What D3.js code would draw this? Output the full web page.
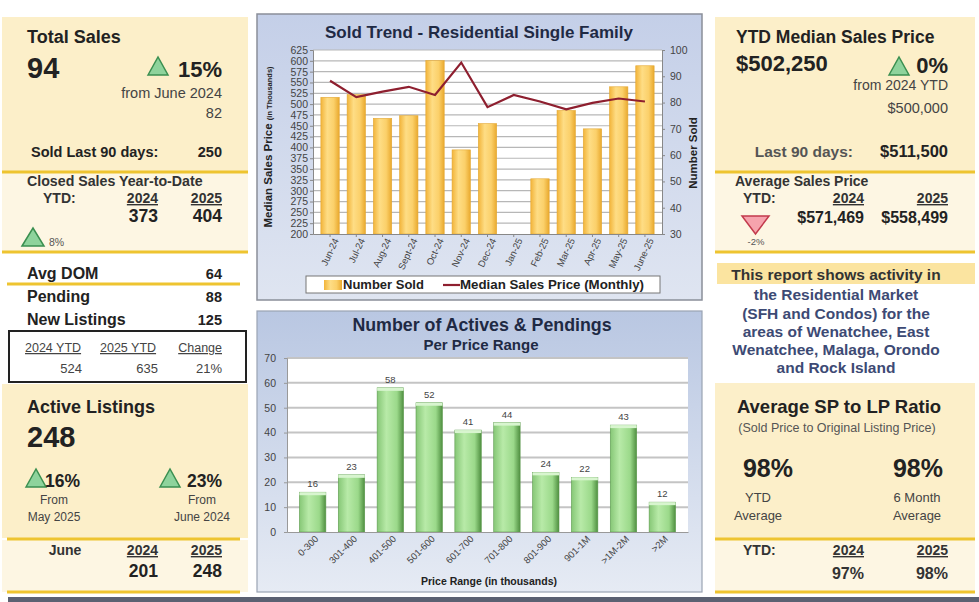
<!DOCTYPE html>
<html>
<head>
<meta charset="utf-8">
<script src="https://cdn.jsdelivr.net/npm/d3@7"></script>
<style>
  body { margin: 0; background: #fff; }
  svg { display: block; font-family: "Liberation Sans", Arial, sans-serif; }
</style>
</head>
<body>
<div id="board"></div>
<script>
// ---- data ----
const MONTHS = ["Jun-24", "Jul-24", "Aug-24", "Sept-24", "Oct-24", "Nov-24", "Dec-24",
  "Jan-25", "Feb-25", "Mar-25", "Apr-25", "May-25", "June-25"];
const NUMBER_SOLD = [82, 83, 74, 75, 96, 62, 72, null, 51, 77, 70, 86, 94];
const MEDIAN_PRICE = [554, 516, 529, 540, 521, 596, 493, 521, 506, 488, 503, 513, 506];
const PRICE_TICKS = [200, 225, 250, 275, 300, 325, 350, 375, 400, 425, 450, 475, 500,
  525, 550, 575, 600, 625];
const SOLD_TICKS = [30, 40, 50, 60, 70, 80, 90, 100];

const RANGES = ["0-300", "301-400", "401-500", "501-600", "601-700", "701-800",
  "801-900", "901-1M", ">1M-2M", ">2M"];
const RANGE_COUNTS = [16, 23, 58, 52, 41, 44, 24, 22, 43, 12];
const COUNT_TICKS = [0, 10, 20, 30, 40, 50, 60, 70];

const WIDTH = 979;
const HEIGHT = 602;

const GOLD = "#eec430";
const PANEL = "#fcefc9";
const PANEL_LIGHT = "#fdf6e3";

const svg = d3.select("#board").append("svg")
  .attr("width", WIDTH).attr("height", HEIGHT);

const defs = svg.append("defs");

function hGrad(id, stops) {
  const g = defs.append("linearGradient").attr("id", id)
    .attr("x1", "0%").attr("x2", "100%").attr("y1", "0%").attr("y2", "0%");
  stops.forEach(s => g.append("stop").attr("offset", s[0]).attr("stop-color", s[1]));
}
function vGrad(id, stops) {
  const g = defs.append("linearGradient").attr("id", id)
    .attr("x1", "0%").attr("x2", "0%").attr("y1", "0%").attr("y2", "100%");
  stops.forEach(s => g.append("stop").attr("offset", s[0]).attr("stop-color", s[1]));
}
hGrad("barGold", [["0%", "#f2b43a"], ["35%", "#fedd85"], ["70%", "#fbd06a"], ["100%", "#e9a92e"]]);
hGrad("barGreen", [["0%", "#86c776"], ["35%", "#b8eaa8"], ["75%", "#9bd98a"], ["100%", "#4f8f40"]]);
vGrad("frameTop", [["0%", "#c4cfe8"], ["100%", "#dfe5f1"]]);
vGrad("frameBot", [["0%", "#b9c7e2"], ["100%", "#e6ebf4"]]);

// ---- helpers ----
function txt(x, y, s, opt) {
  opt = opt || {};
  return svg.append("text")
    .attr("x", x).attr("y", y)
    .attr("font-size", opt.size || 13)
    .attr("font-weight", opt.bold === false ? "normal" : "bold")
    .attr("text-anchor", opt.anchor || "start")
    .attr("fill", opt.color || "#222")
    .attr("text-decoration", opt.under ? "underline" : null)
    .text(s);
}
function upTri(x, y, w, h) {
  svg.append("path")
    .attr("d", `M${x},${y + h}L${x + w / 2},${y}L${x + w},${y + h}Z`)
    .attr("fill", "#8ed39c").attr("stroke", "#3a8f50").attr("stroke-width", 1.5);
}
function downTri(x, y, w, h) {
  svg.append("path")
    .attr("d", `M${x},${y}L${x + w},${y}L${x + w / 2},${y + h}Z`)
    .attr("fill", "#f6a3ad").attr("stroke", "#c23a4c").attr("stroke-width", 1.5);
}
function goldLine(x1, x2, y) {
  svg.append("line").attr("x1", x1).attr("x2", x2).attr("y1", y).attr("y2", y)
    .attr("stroke", GOLD).attr("stroke-width", 3);
}
function box(x, y, w, h, fill) {
  svg.append("rect").attr("x", x).attr("y", y).attr("width", w).attr("height", h).attr("fill", fill);
}

// ---- left panel ----
box(2, 17, 246, 155, PANEL);
box(2, 173, 246, 79, PANEL_LIGHT);
goldLine(2, 248, 172);
goldLine(2, 248, 252);

txt(27, 43, "Total Sales", { size: 18 });
txt(27, 78, "94", { size: 29 });
upTri(148, 57, 20, 18);
txt(222, 77, "15%", { size: 22, anchor: "end" });
txt(222, 98, "from June 2024", { size: 14.5, bold: false, anchor: "end", color: "#444" });
txt(222, 118, "82", { size: 14.5, bold: false, anchor: "end", color: "#444" });
txt(31, 157, "Sold Last 90 days:", { size: 14.5 });
txt(222, 157, "250", { size: 14.5, anchor: "end" });

txt(27, 186, "Closed Sales Year-to-Date", { size: 14.2, color: "#333" });
txt(43, 203, "YTD:", { size: 14, color: "#333" });
txt(158, 203, "2024", { size: 14, anchor: "end", under: true, color: "#333" });
txt(222, 203, "2025", { size: 14, anchor: "end", under: true, color: "#333" });
txt(158, 222, "373", { size: 17.5, anchor: "end" });
txt(222, 222, "404", { size: 17.5, anchor: "end" });
upTri(22, 228, 22, 18);
txt(49, 246, "8%", { size: 10.5, bold: false, color: "#555" });

txt(27, 279, "Avg DOM", { size: 16 });
txt(222, 279, "64", { size: 14.5, anchor: "end" });
goldLine(7, 240, 284);
txt(27, 302, "Pending", { size: 16 });
txt(222, 302, "88", { size: 14.5, anchor: "end" });
txt(27, 325, "New Listings", { size: 16 });
txt(222, 325, "125", { size: 14.5, anchor: "end" });

svg.append("rect").attr("x", 9).attr("y", 331).attr("width", 237).attr("height", 51)
  .attr("fill", "none").attr("stroke", "#222").attr("stroke-width", 2);
txt(25, 352, "2024 YTD", { size: 12.5, bold: false, under: true, color: "#444" });
txt(100, 352, "2025 YTD", { size: 12.5, bold: false, under: true, color: "#444" });
txt(222, 352, "Change", { size: 12.5, bold: false, under: true, anchor: "end", color: "#444" });
txt(82, 373, "524", { size: 13, bold: false, anchor: "end", color: "#444" });
txt(158, 373, "635", { size: 13, bold: false, anchor: "end", color: "#444" });
txt(222, 373, "21%", { size: 13, bold: false, anchor: "end", color: "#444" });

box(2, 384, 246, 154, PANEL);
box(2, 540, 246, 52, PANEL_LIGHT);
goldLine(7, 240, 539);
goldLine(7, 240, 592);
txt(27, 413, "Active Listings", { size: 18 });
txt(27, 447, "248", { size: 29 });
upTri(26, 469, 20, 18);
txt(45, 487, "16%", { size: 17.5 });
txt(54, 504, "From", { size: 12, bold: false, anchor: "middle", color: "#444" });
txt(54, 521, "May 2025", { size: 12, bold: false, anchor: "middle", color: "#444" });
upTri(160, 469, 20, 18);
txt(222, 487, "23%", { size: 17.5, anchor: "end" });
txt(202, 504, "From", { size: 12, bold: false, anchor: "middle", color: "#444" });
txt(202, 521, "June 2024", { size: 12, bold: false, anchor: "middle", color: "#444" });
txt(65, 555, "June", { size: 14, anchor: "middle", color: "#333" });
txt(158, 555, "2024", { size: 14, anchor: "end", under: true, color: "#333" });
txt(222, 555, "2025", { size: 14, anchor: "end", under: true, color: "#333" });
txt(158, 577, "201", { size: 17.5, anchor: "end" });
txt(222, 577, "248", { size: 17.5, anchor: "end" });

// ---- right panel ----
box(715, 17, 260, 155, PANEL);
box(715, 173, 260, 79, PANEL_LIGHT);
goldLine(715, 975, 172);
goldLine(715, 975, 252);

txt(736, 43, "YTD Median Sales Price", { size: 17.5 });
txt(736, 71, "$502,250", { size: 22 });
upTri(889, 57, 20, 18);
txt(948, 73, "0%", { size: 22, anchor: "end" });
txt(948, 90, "from 2024 YTD", { size: 14, bold: false, anchor: "end", color: "#444" });
txt(948, 113, "$500,000", { size: 14.5, bold: false, anchor: "end", color: "#444" });
txt(853, 157, "Last 90 days:", { size: 15.5, anchor: "end", color: "#555" });
txt(948, 157, "$511,500", { size: 16.5, anchor: "end" });

txt(735, 186, "Average Sales Price", { size: 14, color: "#333" });
txt(743, 203, "YTD:", { size: 14, color: "#333" });
txt(864, 203, "2024", { size: 14, anchor: "end", under: true, color: "#333" });
txt(948, 203, "2025", { size: 14, anchor: "end", under: true, color: "#333" });
downTri(742, 216, 27, 18);
txt(756, 245, "-2%", { size: 9.5, bold: false, anchor: "middle", color: "#555" });
txt(864, 223, "$571,469", { size: 16, anchor: "end" });
txt(948, 223, "$558,499", { size: 16, anchor: "end" });

box(717, 263, 258, 21, "#fbe4a0");
const NOTE = ["This report shows activity in", "the Residential Market",
  "(SFH and Condos) for the", "areas of Wenatchee, East",
  "Wenatchee, Malaga, Orondo", "and Rock Island"];
const NOTE_Y = [280, 300, 319, 337, 355, 373];
NOTE.forEach((s, i) => {
  txt(836, NOTE_Y[i], s, { size: 15.5, anchor: "middle", color: i === 0 ? "#333" : "#3d4a74" });
});

box(715, 383, 260, 155, PANEL);
box(715, 540, 260, 52, PANEL_LIGHT);
goldLine(715, 975, 539);
goldLine(715, 975, 592);
txt(839, 413, "Average SP to LP Ratio", { size: 18.5, anchor: "middle" });
txt(837, 432, "(Sold Price to Original Listing Price)", { size: 12.5, bold: false, anchor: "middle", color: "#555" });
txt(768, 477, "98%", { size: 25, anchor: "middle" });
txt(918, 477, "98%", { size: 25, anchor: "middle" });
txt(758, 502, "YTD", { size: 13, bold: false, anchor: "middle", color: "#444" });
txt(758, 520, "Average", { size: 13, bold: false, anchor: "middle", color: "#444" });
txt(917, 502, "6 Month", { size: 13, bold: false, anchor: "middle", color: "#444" });
txt(917, 520, "Average", { size: 13, bold: false, anchor: "middle", color: "#444" });
txt(743, 555, "YTD:", { size: 14, color: "#333" });
txt(864, 555, "2024", { size: 14, anchor: "end", under: true, color: "#333" });
txt(948, 555, "2025", { size: 14, anchor: "end", under: true, color: "#333" });
txt(864, 579, "97%", { size: 16, anchor: "end", color: "#333" });
txt(948, 579, "98%", { size: 16, anchor: "end", color: "#333" });

// bottom strip
box(8, 597, 971, 5, "#5b6172");

// ---- top chart: Sold Trend ----
const T = { left: 313, right: 662, top: 50, bottom: 234 };
svg.append("rect").attr("x", 257).attr("y", 14).attr("width", 445).attr("height", 286)
  .attr("fill", "url(#frameTop)").attr("stroke", "#8a8f99").attr("stroke-width", 1.5);
svg.append("rect").attr("x", T.left).attr("y", T.top)
  .attr("width", T.right - T.left).attr("height", T.bottom - T.top).attr("fill", "#fff");

txt(479, 38, "Sold Trend - Residential Single Family", { size: 17, anchor: "middle", color: "#1f2a44" });

const X_T = d3.scaleBand().domain(MONTHS).range([T.left, T.right]).padding(0.3);
const Y_PRICE = d3.scaleLinear().domain([200, 625]).range([T.bottom, T.top]);
const Y_SOLD = d3.scaleLinear().domain([30, 100]).range([T.bottom, T.top]);

// gridlines
svg.append("g").selectAll("line").data(PRICE_TICKS.slice(1)).enter().append("line")
  .attr("x1", T.left).attr("x2", T.right)
  .attr("y1", d => Y_PRICE(d)).attr("y2", d => Y_PRICE(d))
  .attr("stroke", "#b7b7b7").attr("stroke-width", 1.2);

svg.append("g").selectAll("rect").data(MONTHS.map((m, i) => ({ m: m, v: NUMBER_SOLD[i] })).filter(d => d.v !== null))
  .enter().append("rect")
  .attr("x", d => X_T(d.m)).attr("width", X_T.bandwidth())
  .attr("y", d => Y_SOLD(d.v)).attr("height", d => T.bottom - Y_SOLD(d.v))
  .attr("fill", "url(#barGold)").attr("stroke", "#e3a834").attr("stroke-width", 0.6);

const line = d3.line()
  .x((d, i) => X_T(MONTHS[i]) + X_T.bandwidth() / 2)
  .y(d => Y_PRICE(d));
svg.append("path").datum(MEDIAN_PRICE).attr("d", line)
  .attr("fill", "none").attr("stroke", "#8e1f2f").attr("stroke-width", 2.2);

const axL = svg.append("g").attr("transform", `translate(${T.left},0)`)
  .call(d3.axisLeft(Y_PRICE).tickValues(PRICE_TICKS).tickSize(3).tickPadding(2));
const axR = svg.append("g").attr("transform", `translate(${T.right},0)`)
  .call(d3.axisRight(Y_SOLD).tickValues(SOLD_TICKS).tickSize(3).tickPadding(5));
const axB = svg.append("g").attr("transform", `translate(0,${T.bottom})`)
  .call(d3.axisBottom(X_T).tickSize(3).tickSizeOuter(0));
[axL, axR, axB].forEach(a => {
  a.selectAll("path,line").attr("stroke", "#888");
  a.selectAll("text").attr("fill", "#444").attr("font-size", 10.5)
    .attr("font-family", "Liberation Sans, Arial, sans-serif");
});
axB.selectAll("text").attr("font-size", 9.5)
  .attr("text-anchor", "end").attr("dx", "-0.2em").attr("dy", "0.5em")
  .attr("transform", "rotate(-65)");

const yt = svg.append("text").attr("transform", "translate(272,147) rotate(-90)")
  .attr("text-anchor", "middle").attr("font-weight", "bold").attr("fill", "#222");
yt.append("tspan").attr("font-size", 11.5).text("Median Sales Price ");
yt.append("tspan").attr("font-size", 7.5).text("(in Thousands)");
svg.append("text").attr("transform", "translate(697,153) rotate(-90)")
  .attr("text-anchor", "middle").attr("font-weight", "bold").attr("font-size", 11.5)
  .attr("fill", "#222").text("Number Sold");

// legend
svg.append("rect").attr("x", 306).attr("y", 276).attr("width", 354).attr("height", 17)
  .attr("fill", "#fff").attr("stroke", "#777").attr("stroke-width", 1);
svg.append("rect").attr("x", 324).attr("y", 280).attr("width", 18).attr("height", 10)
  .attr("fill", "url(#barGold)");
txt(343, 289, "Number Sold", { size: 13, color: "#222" });
svg.append("line").attr("x1", 443).attr("x2", 460).attr("y1", 285).attr("y2", 285)
  .attr("stroke", "#8e1f2f").attr("stroke-width", 2.2);
txt(460, 289, "Median Sales Price (Monthly)", { size: 13.3, color: "#222" });

// ---- bottom chart: Actives & Pendings ----
const B = { left: 287, right: 688, top: 358, bottom: 532 };
svg.append("rect").attr("x", 257).attr("y", 311).attr("width", 445).attr("height", 281)
  .attr("fill", "url(#frameBot)").attr("stroke", "#9aa3b3").attr("stroke-width", 1.2);
svg.append("rect").attr("x", B.left).attr("y", B.top)
  .attr("width", B.right - B.left).attr("height", B.bottom - B.top).attr("fill", "#fff");

txt(482, 331, "Number of Actives & Pendings", { size: 17.8, anchor: "middle", color: "#1f2a44" });
txt(481, 350, "Per Price Range", { size: 15, anchor: "middle", color: "#1f2a44" });

const X_B = d3.scaleBand().domain(RANGES).range([B.left, B.right]).padding(0.32);
const Y_B = d3.scaleLinear().domain([0, 70]).range([B.bottom, B.top]);

svg.append("g").selectAll("line").data(COUNT_TICKS.slice(1)).enter().append("line")
  .attr("x1", B.left).attr("x2", B.right)
  .attr("y1", d => Y_B(d)).attr("y2", d => Y_B(d))
  .attr("stroke", "#c4c4c4").attr("stroke-width", 2);

const bars = svg.append("g").selectAll("g").data(RANGES.map((r, i) => ({ r: r, v: RANGE_COUNTS[i] })))
  .enter().append("g");
bars.append("rect")
  .attr("x", d => X_B(d.r)).attr("width", X_B.bandwidth())
  .attr("y", d => Y_B(d.v)).attr("height", d => B.bottom - Y_B(d.v))
  .attr("fill", "url(#barGreen)").attr("stroke", "#5d9a4e").attr("stroke-width", 0.6);
bars.append("rect")
  .attr("x", d => X_B(d.r)).attr("width", X_B.bandwidth())
  .attr("y", d => Y_B(d.v)).attr("height", 3)
  .attr("fill", "#d8f5cf");
bars.append("text")
  .attr("x", d => X_B(d.r) + X_B.bandwidth() / 2).attr("y", d => Y_B(d.v) - 5)
  .attr("text-anchor", "middle").attr("font-size", 9.5).attr("fill", "#444")
  .text(d => d.v);

const axBL = svg.append("g").attr("transform", `translate(${B.left},0)`)
  .call(d3.axisLeft(Y_B).tickValues(COUNT_TICKS).tickSize(3).tickPadding(8));
const axBB = svg.append("g").attr("transform", `translate(0,${B.bottom})`)
  .call(d3.axisBottom(X_B).tickSize(0).tickSizeOuter(0).tickPadding(6));
[axBL, axBB].forEach(a => {
  a.selectAll("path,line").attr("stroke", "#999");
  a.selectAll("text").attr("fill", "#444").attr("font-size", 10.5)
    .attr("font-family", "Liberation Sans, Arial, sans-serif");
});
axBB.selectAll("text").attr("font-size", 9.5)
  .attr("text-anchor", "end").attr("dx", "-0.1em").attr("dy", "0.4em")
  .attr("transform", "rotate(-45)");

txt(489, 585, "Price Range (in thousands)", { size: 10.5, anchor: "middle", color: "#222" });
</script>
</body>
</html>
